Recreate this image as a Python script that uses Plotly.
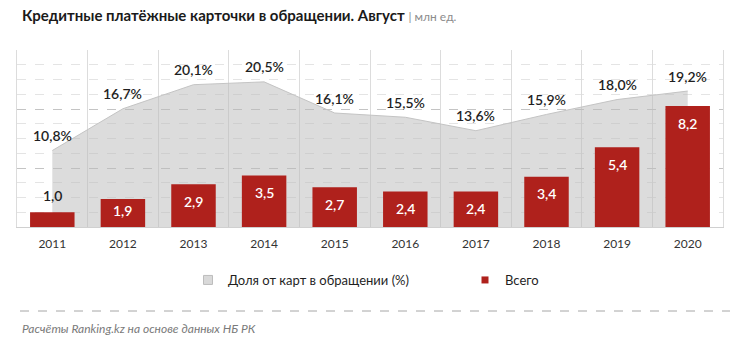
import plotly.graph_objects as go

years = ["2011", "2012", "2013", "2014", "2015", "2016", "2017", "2018", "2019", "2020"]
share_pct = [10.8, 16.7, 20.1, 20.5, 16.1, 15.5, 13.6, 15.9, 18.0, 19.2]
total_mln = [1.0, 1.9, 2.9, 3.5, 2.7, 2.4, 2.4, 3.4, 5.4, 8.2]

title_main = "Кредитные платёжные карточки в обращении. Август"
title_unit = "| млн ед."
legend_share = "Доля от карт в обращении (%)"
legend_total = "Всего"
source_note = "Расчёты Ranking.kz на основе данных НБ РК"

FONT = "Lato"
BAR_RED = "#AF211C"
AREA_FILL = "rgba(185,185,185,0.5)"
AREA_LINE = "#c4c4c4"

L, R, T, B = 17, 17, 50, 117
W, H = 740, 344
plot_h = H - T - B
plot_w = W - L - R
Y2_MAX = 12
Y1_MAX = 25

def py(px):
    """pixel row -> paper y"""
    return (H - B - px) / plot_h

def pxx(px):
    return (px - L) / plot_w

fig = go.Figure()

fig.add_trace(go.Scatter(
    x=years, y=share_pct, yaxis="y", mode="lines",
    fill="tozeroy", fillcolor=AREA_FILL,
    line=dict(color=AREA_LINE, width=1),
    showlegend=False, legendgroup="share", hoverinfo="skip",
))
fig.add_trace(go.Bar(
    x=years, y=total_mln, yaxis="y2", width=0.63,
    marker=dict(color=BAR_RED, line=dict(width=0)),
    showlegend=False, legendgroup="total", hoverinfo="skip",
))
# legend entries (small squares as in the original)
fig.add_trace(go.Scatter(
    x=[None], y=[None], mode="markers", name=legend_share, legendgroup="share",
    legendwidth=232,
    marker=dict(symbol="square", size=9, color="#d9d9d9", line=dict(color="#bdbdbd", width=1)),
))
fig.add_trace(go.Scatter(
    x=[None], y=[None], mode="markers", name=legend_total, legendgroup="total",
    legendwidth=45,
    marker=dict(symbol="square", size=7, color=BAR_RED, line=dict(width=0)),
))

annotations = []
for i, v in enumerate(share_pct):
    annotations.append(dict(
        x=i, y=v, xref="x", yref="y", yshift=15, showarrow=False,
        text=f"{v:.1f}%".replace(".", ","), yanchor="middle",
        font=dict(family=FONT, size=14, color="#1f1f1f", weight=600),
    ))
px_per_unit = plot_h / Y2_MAX
for i, v in enumerate(total_mln):
    h = v * px_per_unit
    label = f"{v:.1f}".replace(".", ",")
    if h < 24:
        annotations.append(dict(
            x=i, y=v, xref="x", yref="y2", yshift=17, showarrow=False,
            text=label, yanchor="middle",
            font=dict(family=FONT, size=14, color="#1f1f1f", weight=600),
        ))
    else:
        annotations.append(dict(
            x=i, y=v, xref="x", yref="y2", yshift=-min(17, h - 17), showarrow=False,
            text=label, yanchor="middle",
            font=dict(family=FONT, size=14, color="#ffffff", weight=600),
        ))

annotations.append(dict(
    x=pxx(20), y=py(15), xref="paper", yref="paper", xanchor="left", yanchor="middle",
    showarrow=False,
    text=f"<b>{title_main}</b> <span style='color:#8c8c8c;font-size:12px'>{title_unit}</span>",
    font=dict(family=FONT, size=15, color="#1a1a1a"),
))
annotations.append(dict(
    x=pxx(20), y=py(328), xref="paper", yref="paper", xanchor="left", yanchor="middle",
    showarrow=False, text=f"<i>{source_note}</i>",
    font=dict(family=FONT, size=12, color="#7a7a7a"),
))

shapes = [dict(
    type="line", xref="paper", yref="paper", x0=pxx(20), x1=pxx(730), y0=py(311), y1=py(311),
    line=dict(color="#a6a6a6", width=1, dash="dash"),
)]

fig.update_layout(
    width=W, height=H, margin=dict(l=L, r=R, t=T, b=B, pad=0, autoexpand=False),
    paper_bgcolor="white", plot_bgcolor="white",
    font=dict(family=FONT, size=12, color="#333333"),
    bargap=0.37,
    xaxis=dict(
        type="category", range=[-0.5, 9.5], tickson="boundaries",
        showgrid=True, gridcolor="#dcdcdc", gridwidth=1,
        showline=True, linecolor="#d0d0d0", linewidth=1,
        ticks="", ticklabelstandoff=6,
        tickfont=dict(family=FONT, size=12, color="#333333"),
        zeroline=False, fixedrange=True,
    ),
    yaxis=dict(
        range=[0, Y1_MAX], showgrid=False, zeroline=False, showticklabels=False,
        showline=True, mirror=True, linecolor="#dcdcdc", linewidth=1, ticks="",
    ),
    yaxis2=dict(
        range=[0, Y2_MAX], overlaying="y", side="left", showticklabels=False,
        showgrid=True, dtick=4, gridcolor="#c4c4c4", griddash="dash", gridwidth=1,
        minor=dict(dtick=1, showgrid=True, gridcolor="#e4e4e4", gridwidth=1),
        zeroline=False, ticks="",
    ),
    legend=dict(
        orientation="h", x=pxx(188), xanchor="left", y=py(280), yanchor="middle",
        itemwidth=30,
        font=dict(family=FONT, size=13, color="#1f1f1f"),
        bgcolor="rgba(0,0,0,0)", traceorder="normal",
    ),
    annotations=annotations, shapes=shapes,
)

fig.write_html("out.html")
